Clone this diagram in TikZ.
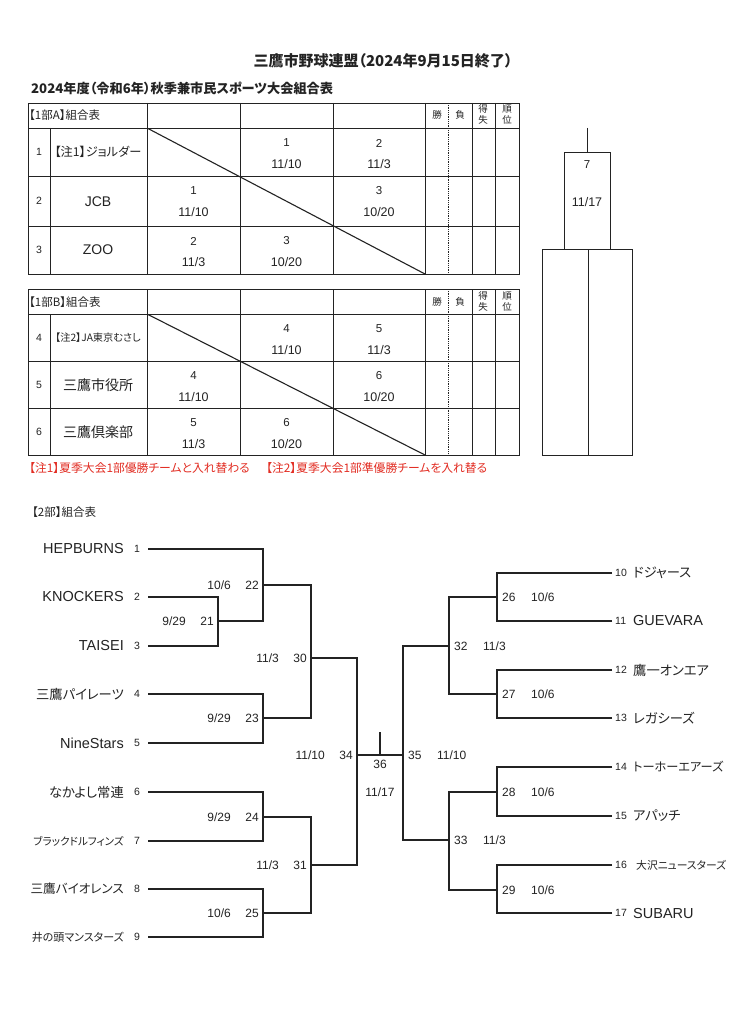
\documentclass[tikz,border=0pt]{standalone}
\usepackage{fontspec}
\setmainfont{Liberation Sans}
\newfontfamily\jp[RawFeature=+palt]{Noto Sans CJK JP}
\definecolor{ink}{RGB}{35,35,35}
\definecolor{notered}{RGB}{226,45,35}
\newcommand\tcell[5]{\node[cn] (#1n) at (#2,#3+15) {#4}; \node[cd] (#1d) at (#2,#3+36) {#5};}
\tikzset{
 tbl/.style={line width=0.8pt, draw=ink},
 br/.style={line width=1.1pt, draw=ink},
 lat/.style={font=\fontsize{14.5}{15}\selectfont, inner sep=0pt, text=ink},
 jpn/.style={font=\jp\fontsize{13.3}{14}\selectfont, inner sep=0pt, text=ink},
 jps/.style={font=\jp\fontsize{10.6}{11}\selectfont, inner sep=0pt, text=ink},
 tnum/.style={font=\fontsize{10.5}{11}\selectfont, inner sep=0pt, text=ink},
 dt/.style={font=\fontsize{12}{13}\selectfont, inner sep=0pt, text=ink},
 cn/.style={font=\fontsize{11.5}{12}\selectfont, inner sep=0pt, text=ink},
 cd/.style={font=\fontsize{12.5}{13}\selectfont, inner sep=0pt, text=ink},
 hd/.style={font=\jp\fontsize{9.5}{10}\selectfont, inner sep=0pt, text=ink},
 hl/.style={font=\jp\fontsize{11.5}{12}\selectfont, inner sep=0pt, text=ink, anchor=west},
}
\begin{document}
\begin{tikzpicture}[x=1pt,y=-1pt]
\useasboundingbox (0,0) rectangle (736,1024);
\fill[white] (0,0) rectangle (736,1024);

% titles
\node[font=\jp\bfseries\fontsize{15}{16}\selectfont, text=ink, inner sep=0pt] (title) at (383,61) {三鷹市野球連盟（2024年9月15日終了）};
\node[font=\jp\bfseries\fontsize{13.2}{14}\selectfont, text=ink, inner sep=0pt, anchor=west] (sub) at (31,88) {2024年度（令和6年）秋季兼市民スポーツ大会組合表};

% ---------- table A
\draw[tbl] (28,103) rectangle (519,274);
\foreach \y in {128,176,226} \draw[tbl] (28,\y) -- (519,\y);
\draw[tbl] (50,128) -- (50,274);
\foreach \x in {147,240,333,425,472,495} \draw[tbl] (\x,103) -- (\x,274);
\draw[tbl, densely dotted] (448,103) -- (448,274);
\draw[line width=1.1pt, draw=ink] (147,128) -- (425,274);
\node[hl] (ha) at (29,115) {【1部A】組合表};
\node[hd] (ha1) at (437,115) {勝};
\node[hd] (ha2) at (460,115) {負};
\node[hd] (ha3) at (483,109) {得};
\node[hd] (ha4) at (483,120) {失};
\node[hd] (ha5) at (507,109) {順};
\node[hd] (ha6) at (507,120) {位};
\node[tnum] (ra1) at (39,152) {1};
\node[tnum] (ra2) at (39,201) {2};
\node[tnum] (ra3) at (39,250) {3};
\node[font=\jp\fontsize{12.2}{13}\selectfont, inner sep=0pt, text=ink] (na1) at (98,152) {【注1】ジョルダー};
\node[font=\fontsize{14}{15}\selectfont, inner sep=0pt, text=ink] (na2) at (98,202) {JCB};
\node[font=\fontsize{14}{15}\selectfont, inner sep=0pt, text=ink] (na3) at (98,250) {ZOO};
\tcell{a12}{286.5}{128}{1}{11/10}
\tcell{a13}{379}{128}{2}{11/3}
\tcell{a21}{193.5}{176}{1}{11/10}
\tcell{a23}{379}{176}{3}{10/20}
\tcell{a31}{193.5}{226}{2}{11/3}
\tcell{a32}{286.5}{226}{3}{10/20}

% ---------- table B
\draw[tbl] (28,289) rectangle (519,455);
\foreach \y in {314,361,408} \draw[tbl] (28,\y) -- (519,\y);
\draw[tbl] (50,314) -- (50,455);
\foreach \x in {147,240,333,425,472,495} \draw[tbl] (\x,289) -- (\x,455);
\draw[tbl, densely dotted] (448,289) -- (448,455);
\draw[line width=1.1pt, draw=ink] (147,314) -- (425,455);
\node[hl] (hb) at (29,302) {【1部B】組合表};
\node[hd] (hb1) at (437,302) {勝};
\node[hd] (hb2) at (460,302) {負};
\node[hd] (hb3) at (483,296) {得};
\node[hd] (hb4) at (483,307) {失};
\node[hd] (hb5) at (507,296) {順};
\node[hd] (hb6) at (507,307) {位};
\node[tnum] (rb1) at (39,338) {4};
\node[tnum] (rb2) at (39,385) {5};
\node[tnum] (rb3) at (39,432) {6};
\node[font=\jp\fontsize{10.2}{11}\selectfont, inner sep=0pt, text=ink] (nb1) at (98,338) {【注2】JA東京むさし};
\node[font=\jp\fontsize{14}{15}\selectfont, inner sep=0pt, text=ink] (nb2) at (98,385) {三鷹市役所};
\node[font=\jp\fontsize{14}{15}\selectfont, inner sep=0pt, text=ink] (nb3) at (98,432) {三鷹倶楽部};
\tcell{b12}{286.5}{314}{4}{11/10}
\tcell{b13}{379}{314}{5}{11/3}
\tcell{b21}{193.5}{361}{4}{11/10}
\tcell{b23}{379}{361}{6}{10/20}
\tcell{b31}{193.5}{408}{5}{11/3}
\tcell{b32}{286.5}{408}{6}{10/20}

% notes
\node[font=\jp\fontsize{11.8}{12}\selectfont, text=notered, inner sep=0pt, anchor=west] (note1) at (29,468) {【注1】夏季大会1部優勝チームと入れ替わる};
\node[font=\jp\fontsize{11.8}{12}\selectfont, text=notered, inner sep=0pt, anchor=west] (note2) at (266,468) {【注2】夏季大会1部準優勝チームを入れ替る};

% ---------- small final bracket (right)
\coordinate (f7top) at (587,128);
\coordinate (f7) at (587,152);
\draw[tbl] (f7top) -- (f7);
\draw[tbl] (564,152) rectangle (610,249);
\draw[tbl] (542,249) rectangle (632,455);
\draw[tbl] (588,249) -- (588,455);
\node[cn] (f7n) at (587,165) {7};
\node[cd] (f7d) at (587,202) {11/17};

% ---------- division 2
\node[hl] (h2) at (32,512) {【2部】組合表};

% left teams
\foreach \i/\y in {1/549,2/597,3/646,4/694,5/743,6/792,7/841,8/889,9/937}{
  \coordinate (t\i) at (148,\y);
  \node[tnum] (k\i) at (137,\y) {\i};
}
\node[lat, anchor=east] (n1) at (124,549) {HEPBURNS};
\node[lat, anchor=east] (n2) at (124,597) {KNOCKERS};
\node[lat, anchor=east] (n3) at (124,646) {TAISEI};
\node[jpn, anchor=east] (n4) at (124,694) {三鷹パイレーツ};
\node[lat, anchor=east] (n5) at (124,743) {NineStars};
\node[jpn, anchor=east] (n6) at (124,792) {なかよし常連};
\node[jps, anchor=east] (n7) at (124,841) {ブラックドルフィンズ};
\node[font=\jp\fontsize{12.6}{13}\selectfont, inner sep=0pt, text=ink, anchor=east] (n8) at (124,889) {三鷹バイオレンス};
\node[font=\jp\fontsize{11}{12}\selectfont, inner sep=0pt, text=ink, anchor=east] (n9) at (124,937) {井の頭マンスターズ};

% right teams
\foreach \i/\y in {10/573,11/621,12/670,13/718,14/767,15/816,16/865,17/913}{
  \coordinate (t\i) at (612,\y);
  \node[tnum, anchor=west] (k\i) at (615,\y) {\i};
}
\node[jpn, anchor=west] (n10) at (633,573) {ドジャース};
\node[lat, anchor=west] (n11) at (633,621) {GUEVARA};
\node[jpn, anchor=west] (n12) at (633,670) {鷹一オンエア};
\node[jpn, anchor=west] (n13) at (633,718) {レガシーズ};
\node[font=\jp\fontsize{12.2}{13}\selectfont, inner sep=0pt, text=ink, anchor=west] (n14) at (633,767) {トーホーエアーズ};
\node[jpn, anchor=west] (n15) at (633,816) {アパッチ};
\node[font=\jp\fontsize{10.8}{11}\selectfont, inner sep=0pt, text=ink, anchor=west] (n16) at (636,865) {大沢ニュースターズ};
\node[lat, anchor=west] (n17) at (633,913) {SUBARU};

% left matches: number / x of vertical / y of output / date
\foreach \m/\x/\y/\d in {21/218/621/{9/29},22/263/585/{10/6},23/263/718/{9/29},24/263/817/{9/29},25/263/913/{10/6},30/311/658/{11/3},31/311/865/{11/3},34/357/755/{11/10}}{
  \coordinate (j\m) at (\x,\y);
  \node[dt, anchor=east] (l\m) at (\x-4,\y) {\m};
  \node[dt, anchor=east] (d\m) at (\x-32,\y) {\d};
}
% right matches
\foreach \m/\x/\y/\d in {26/497/597/{10/6},27/497/694/{10/6},28/497/792/{10/6},29/497/890/{10/6},32/449/646/{11/3},33/449/840/{11/3},35/403/755/{11/10}}{
  \coordinate (j\m) at (\x,\y);
  \node[dt, anchor=west] (l\m) at (\x+5,\y) {\m};
  \node[dt, anchor=west] (d\m) at (\x+34,\y) {\d};
}

% connectors
\foreach \a/\b in {t1/j22,t2/j21,t3/j21,j21/j22,j22/j30,t4/j23,t5/j23,j23/j30,j30/j34,
                   t6/j24,t7/j24,j24/j31,t8/j25,t9/j25,j25/j31,j31/j34,
                   t10/j26,t11/j26,j26/j32,t12/j27,t13/j27,j27/j32,j32/j35,
                   t14/j28,t15/j28,j28/j33,t16/j29,t17/j29,j29/j33,j33/j35}
  \draw[br] (\a) -| (\b);
\draw[br] (j34) -- (j35);

% final 36
\coordinate (c36) at (380,755);
\coordinate (c36top) at (380,732);
\draw[br] (c36) -- (c36top);
\node[dt] (l36) at (380,764) {36};
\node[dt] (d36) at (380,792) {11/17};
\end{tikzpicture}
\end{document}
